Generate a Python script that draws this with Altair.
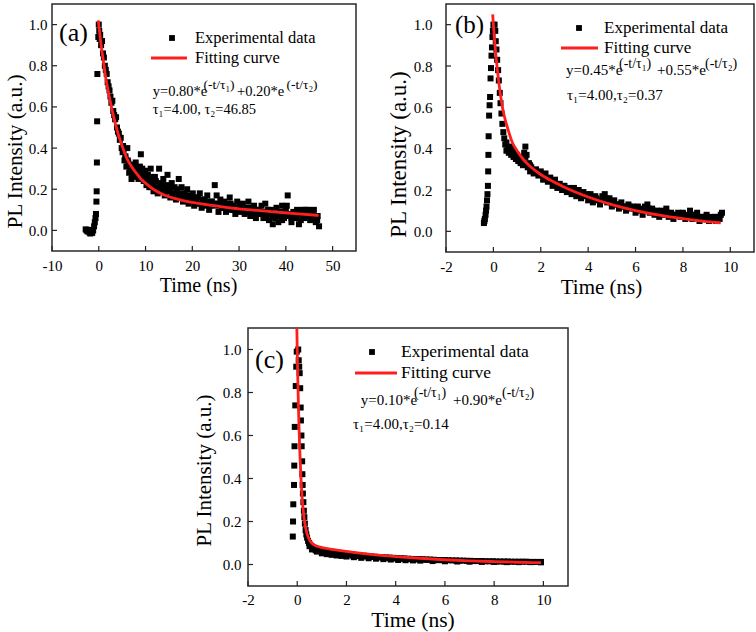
import altair as alt
import pandas as pd

FONT = "Liberation Serif"
RED = "#ff1e1e"

# ---------------- Panel (a) ----------------
a_exp_t = [-2.8, -2.6, -2.4, -2.2, -2.0, -1.8, -1.6, -1.4, -1.2, -1.0, -0.85, -0.7, -0.6,
           -0.5, -0.45, -0.4, -0.35, -0.3, -0.1, 0.0, 0.1, 0.2,
           0.3, 0.5, 0.7, 0.9, 1.1, 1.3, 1.5, 1.7, 1.9, 2.1, 2.3, 2.5, 2.7, 2.9, 3.1, 3.3, 3.5,
           3.7, 3.9, 4.1, 4.3, 4.5, 4.7, 4.9, 5.1, 5.3, 5.5, 5.7, 5.9, 6.1, 6.3, 6.5, 6.8, 7.0,
           7.3, 7.6, 7.9, 8.2, 8.5, 8.8, 9.0, 9.3, 9.6, 9.9, 10.2, 10.5, 10.8, 11.1, 11.4, 11.7,
           12.0, 12.3, 12.6, 12.9, 13.2, 13.5, 13.8, 14.1, 14.4, 14.7, 15.0, 15.3, 15.6, 15.9,
           16.2, 16.5, 16.8, 17.1, 17.4, 17.7, 18.0, 18.3, 18.6, 18.9, 19.2, 19.5, 19.8, 20.1,
           20.4, 20.8, 21.2, 21.6, 22.0, 22.4, 22.8, 23.2, 23.6, 24.0, 24.4, 24.8, 25.2, 25.6,
           26.0, 26.4, 26.8, 27.2, 27.6, 28.0, 28.4, 28.8, 29.2, 29.6, 30.0, 30.4, 30.8, 31.2,
           31.6, 32.0, 32.4, 32.8, 33.2, 33.6, 34.0, 34.4, 34.8, 35.2, 35.6, 36.0, 36.4, 36.8,
           37.2, 37.6, 38.0, 38.4, 38.8, 39.2, 39.6, 40.0, 40.4, 40.8, 41.2, 41.6, 42.0, 42.4,
           42.8, 43.2, 43.6, 44.0, 44.4, 44.8, 45.2, 45.6, 46.0, 46.4, 46.8, 47.1]
a_exp_y = [0.005, 0.0, -0.005, 0.003, -0.01, -0.015, -0.008, -0.012, 0.0, 0.02, 0.04, 0.06, 0.08,
           0.14, 0.19, 0.33, 0.53, 0.76, 0.94, 1.0, 0.97, 0.93,
           0.95, 0.90, 0.92, 0.86, 0.84, 0.80, 0.78, 0.76, 0.72, 0.70, 0.68, 0.65, 0.62, 0.63, 0.58,
           0.56, 0.54, 0.55, 0.50, 0.48, 0.47, 0.44, 0.45, 0.40, 0.38, 0.39, 0.34, 0.36, 0.31, 0.40,
           0.33, 0.28, 0.32, 0.25, 0.30, 0.27, 0.33, 0.29, 0.25, 0.31, 0.37, 0.30, 0.24, 0.29, 0.22,
           0.27, 0.21, 0.30, 0.24, 0.19, 0.26, 0.21, 0.18, 0.30, 0.23, 0.19, 0.25, 0.17, 0.22, 0.27,
           0.20, 0.16, 0.23, 0.18, 0.21, 0.15, 0.19, 0.25, 0.17, 0.21, 0.14, 0.18, 0.15, 0.20, 0.13,
           0.17, 0.14, 0.18, 0.12, 0.16, 0.13, 0.18, 0.11, 0.15, 0.12, 0.17, 0.10, 0.14, 0.12, 0.22,
           0.13, 0.09, 0.15, 0.11, 0.14, 0.09, 0.13, 0.16, 0.10, 0.12, 0.08, 0.14, 0.11, 0.09, 0.13,
           0.08, 0.11, 0.14, 0.07, 0.10, 0.12, 0.06, 0.10, 0.08, 0.12, 0.06, 0.13, 0.09, 0.05, 0.10,
           0.03, 0.08, 0.11, 0.04, 0.09, 0.12, 0.06, 0.10, 0.17, 0.08, 0.04, 0.09, 0.06, 0.10, 0.03,
           0.08, 0.10, 0.06, 0.09, 0.10, 0.05, 0.08, 0.10, 0.04, 0.07, 0.02]
# second, interleaved sweep of the same decay (thickens the noisy band)
a_exp2_t = [5.2, 5.7, 6.2, 6.7, 7.2, 7.7, 8.2, 8.7, 9.2, 9.7, 10.2, 10.7, 11.2, 11.7, 12.2,
            12.7, 13.2, 13.7, 14.2, 14.7, 15.2, 15.7, 16.2, 16.7, 17.2, 17.7, 18.2, 18.7, 19.2,
            19.7, 20.2, 20.7, 21.2, 21.7, 22.2, 22.7, 23.2, 23.7, 24.2, 24.7, 25.2, 25.7, 26.2,
            26.7, 27.2, 27.7, 28.2, 28.7, 29.2, 29.7, 30.2, 30.7, 31.2, 31.7, 32.2, 32.7, 33.2,
            33.7, 34.2, 34.7, 35.2, 35.7, 36.2, 36.7, 37.2, 37.7, 38.2, 38.7, 39.2, 39.7, 40.2,
            40.7, 41.2, 41.7, 42.2, 42.7, 43.2, 43.7, 44.2, 44.7, 45.2, 45.7, 46.2, 46.7]
a_exp2_y = [0.41, 0.35, 0.34, 0.29, 0.27, 0.31, 0.26, 0.28, 0.26, 0.27, 0.25, 0.23, 0.26, 0.22, 0.24,
            0.20, 0.21, 0.22, 0.20, 0.19, 0.21, 0.18, 0.17, 0.20, 0.16, 0.18, 0.16, 0.17, 0.15,
            0.16, 0.15, 0.14, 0.16, 0.13, 0.14, 0.15, 0.13, 0.12, 0.14, 0.13, 0.17, 0.12, 0.13,
            0.11, 0.12, 0.11, 0.13, 0.10, 0.11, 0.10, 0.12, 0.10, 0.09, 0.10, 0.09, 0.11, 0.08,
            0.09, 0.10, 0.08, 0.09, 0.07, 0.10, 0.08, 0.07, 0.06, 0.08, 0.07, 0.05, 0.08, 0.12,
            0.07, 0.06, 0.08, 0.07, 0.09, 0.05, 0.07, 0.10, 0.08, 0.07, 0.09, 0.06, 0.05]
a_fit_t = [-0.1, 0, 0.5, 1, 1.5, 2, 3, 4, 5, 6, 7, 8, 9, 10, 12, 14, 16, 18, 20, 23, 26, 30,
           34, 38, 42, 47]
a_fit_y = [1.02, 1.0, 0.90, 0.82, 0.74, 0.68, 0.57, 0.48, 0.41, 0.35, 0.31, 0.28, 0.25, 0.23,
           0.195, 0.172, 0.157, 0.145, 0.136, 0.125, 0.116, 0.105, 0.097, 0.089, 0.082, 0.073]
a_xticks = [-10, 0, 10, 20, 30, 40, 50]

# ---------------- Panel (b) ----------------
b_exp_t = [-0.40, -0.38, -0.36, -0.33, -0.31, -0.29, -0.27, -0.25, -0.23, -0.22, -0.21, -0.20,
           -0.18, -0.16, -0.14, -0.12, -0.10, -0.08, -0.06, -0.04, -0.02, 0.0,
           0.05, 0.08, 0.10, 0.13, 0.16, 0.20, 0.23, 0.27, 0.30, 0.34, 0.38, 0.42, 0.46, 0.50,
           0.55, 0.60, 0.65, 0.70, 0.75, 0.80, 0.85, 0.90, 0.95, 1.00, 1.05, 1.10, 1.15, 1.20,
           1.25, 1.30, 1.35, 1.40, 1.45, 1.50, 1.55, 1.60, 1.70, 1.80, 1.90, 2.00, 2.10, 2.20,
           2.30, 2.40, 2.50, 2.60, 2.70, 2.80, 2.90, 3.00, 3.10, 3.20, 3.30, 3.40, 3.50, 3.60,
           3.70, 3.80, 3.90, 4.00, 4.10, 4.20, 4.30, 4.40, 4.50, 4.60, 4.70, 4.80, 4.90, 5.00,
           5.10, 5.20, 5.30, 5.40, 5.50, 5.60, 5.70, 5.80, 5.90, 6.00, 6.10, 6.20, 6.30, 6.40,
           6.50, 6.60, 6.70, 6.80, 6.90, 7.00, 7.10, 7.20, 7.30, 7.40, 7.50, 7.60, 7.80, 7.90,
           8.00, 8.10, 8.20, 8.30, 8.40, 8.50, 8.60, 8.70, 8.80, 8.90, 9.00, 9.10, 9.20, 9.30,
           9.40, 9.50, 9.60, 9.65]
b_exp_y = [0.04, 0.05, 0.06, 0.08, 0.10, 0.12, 0.15, 0.18, 0.22, 0.29, 0.37, 0.46,
           0.56, 0.61, 0.65, 0.74, 0.79, 0.85, 0.89, 0.94, 0.97, 1.0,
           1.00, 0.97, 0.92, 0.88, 0.83, 0.78, 0.73, 0.67, 0.62, 0.57, 0.52, 0.48, 0.45, 0.42,
           0.43, 0.40, 0.38, 0.41, 0.37, 0.39, 0.36, 0.38, 0.35, 0.37, 0.34, 0.36, 0.33, 0.35,
           0.32, 0.38, 0.41, 0.37, 0.31, 0.33, 0.29, 0.31, 0.28, 0.30, 0.27, 0.29, 0.25, 0.28,
           0.24, 0.26, 0.22, 0.25, 0.21, 0.23, 0.20, 0.22, 0.19, 0.21, 0.18, 0.21, 0.17, 0.20,
           0.16, 0.19, 0.17, 0.15, 0.18, 0.14, 0.17, 0.15, 0.13, 0.17, 0.18, 0.14, 0.16, 0.12,
           0.15, 0.13, 0.11, 0.14, 0.12, 0.10, 0.13, 0.11, 0.12, 0.09, 0.12, 0.10, 0.08, 0.12,
           0.13, 0.09, 0.11, 0.08, 0.10, 0.07, 0.10, 0.08, 0.11, 0.07, 0.09, 0.06, 0.09, 0.07,
           0.09, 0.06, 0.08, 0.10, 0.06, 0.08, 0.09, 0.05, 0.07, 0.06, 0.08, 0.05, 0.07, 0.06,
           0.05, 0.07, 0.08, 0.09]
b_exp2_t = [0.55, 0.75, 0.95, 1.15, 1.35, 1.55, 1.75, 1.95, 2.15, 2.35, 2.55, 2.75, 2.95, 3.15,
            3.35, 3.55, 3.75, 3.95, 4.15, 4.35, 4.55, 4.75, 4.95, 5.15, 5.35, 5.55, 5.75, 5.95,
            6.15, 6.35, 6.55, 6.75, 6.95, 7.15, 7.35, 7.55, 7.75, 7.95, 8.15, 8.35, 8.55, 8.75,
            8.95, 9.15, 9.35, 9.55]
b_exp2_y = [0.39, 0.40, 0.37, 0.35, 0.36, 0.32, 0.29, 0.28, 0.27, 0.25, 0.24, 0.22, 0.22, 0.20,
            0.20, 0.19, 0.18, 0.18, 0.16, 0.16, 0.15, 0.16, 0.14, 0.13, 0.13, 0.12, 0.12, 0.11,
            0.11, 0.10, 0.11, 0.10, 0.09, 0.09, 0.09, 0.08, 0.08, 0.08, 0.07, 0.08, 0.07, 0.07,
            0.07, 0.06, 0.07, 0.06]
b_fit_t = [-0.03, 0, 0.1, 0.2, 0.3, 0.4, 0.5, 0.6, 0.8, 1.0, 1.25, 1.5, 2, 2.5, 3, 4, 5, 6, 7,
           8, 9, 9.6]
b_fit_y = [1.05, 1.0, 0.86, 0.75, 0.66, 0.59, 0.54, 0.50, 0.43, 0.39, 0.35, 0.32, 0.275, 0.242,
           0.213, 0.166, 0.129, 0.100, 0.078, 0.061, 0.047, 0.041]
b_xticks = [-2, 0, 2, 4, 6, 8, 10]

# ---------------- Panel (c) ----------------
c_exp_t = [-0.18, -0.17, -0.16, -0.13, -0.12, -0.11, -0.10, -0.08, -0.06, -0.04, -0.02,
           0.04, 0.06, 0.08, 0.10, 0.12, 0.14, 0.15, 0.17, 0.18, 0.20, 0.21, 0.22, 0.23, 0.25,
           0.27, 0.29, 0.31, 0.34, 0.37, 0.40, 0.44, 0.48, 0.52, 0.56, 0.60, 0.65, 0.70,
           0.75, 0.90, 1.05, 1.20, 1.35, 1.50, 1.65, 1.80, 1.95, 2.10, 2.25, 2.40, 2.55, 2.70,
           2.85, 3.00, 3.15, 3.30, 3.45, 3.60, 3.75, 3.90, 4.05, 4.20, 4.35, 4.50, 4.65, 4.80,
           4.95, 5.10, 5.25, 5.40, 5.55, 5.70, 5.85, 6.00, 6.15, 6.30, 6.45, 6.60, 6.75, 6.90,
           7.05, 7.20, 7.35, 7.50, 7.65, 7.80, 7.95, 8.10, 8.25, 8.40, 8.55, 8.70, 8.85, 9.00,
           9.15, 9.30, 9.45, 9.60, 9.75, 9.90,
           0.60, 0.80, 1.00, 1.20, 1.40, 1.60, 1.80, 2.00, 2.30, 2.60, 2.90, 3.20, 3.50, 3.80,
           4.10, 4.40, 4.70, 5.00, 5.50, 6.00, 6.50, 7.00, 7.50, 8.00, 8.50, 9.00, 9.50, 9.90]
c_exp_y = [0.13, 0.20, 0.28, 0.37, 0.46, 0.55, 0.64, 0.74, 0.83, 0.92, 0.99,
           1.0, 0.95, 0.92, 0.89, 0.82, 0.73, 0.67, 0.60, 0.55, 0.48, 0.42, 0.37, 0.33, 0.29,
           0.25, 0.22, 0.19, 0.16, 0.14, 0.125, 0.11, 0.10, 0.092, 0.087, 0.083, 0.079, 0.076,
           0.074, 0.070, 0.066, 0.063, 0.060, 0.057, 0.055, 0.052, 0.050, 0.048, 0.046, 0.044,
           0.043, 0.041, 0.039, 0.038, 0.036, 0.035, 0.034, 0.033, 0.032, 0.031, 0.030, 0.029,
           0.028, 0.027, 0.026, 0.025, 0.025, 0.024, 0.023, 0.023, 0.022, 0.021, 0.021, 0.020,
           0.020, 0.019, 0.019, 0.018, 0.018, 0.017, 0.017, 0.016, 0.016, 0.016, 0.015, 0.015,
           0.015, 0.014, 0.014, 0.014, 0.014, 0.013, 0.013, 0.013, 0.013, 0.013, 0.012, 0.012,
           0.012, 0.012,
           0.070, 0.060, 0.052, 0.048, 0.045, 0.042, 0.040, 0.037, 0.034, 0.031, 0.029, 0.027,
           0.025, 0.023, 0.021, 0.020, 0.019, 0.018, 0.016, 0.015, 0.014, 0.013, 0.012, 0.012,
           0.011, 0.011, 0.011, 0.010]
c_exp2_t = [0.50, 0.75, 1.00, 1.25, 1.50, 1.75, 2.00, 2.25, 2.50, 2.75, 3.00, 3.25, 3.50, 3.75,
            4.00, 4.25, 4.50, 4.75, 5.00, 5.25, 5.50, 5.75, 6.00]
c_exp2_y = [0.085, 0.066, 0.058, 0.054, 0.050, 0.047, 0.043, 0.041, 0.039, 0.037, 0.035, 0.033,
            0.031, 0.029, 0.028, 0.027, 0.025, 0.024, 0.023, 0.022, 0.021, 0.020, 0.019]
c_fit_t = [-0.02, 0, 0.02, 0.05, 0.1, 0.15, 0.2, 0.25, 0.3, 0.4, 0.5, 0.6, 0.8, 1.0, 1.5, 2,
           3, 4, 5, 6, 7, 8, 9, 9.9]
c_fit_y = [1.13, 1.0, 0.88, 0.73, 0.54, 0.405, 0.31, 0.245, 0.198, 0.142, 0.114, 0.098, 0.085,
           0.079, 0.069, 0.061, 0.047, 0.037, 0.029, 0.022, 0.017, 0.0135, 0.0105, 0.0084]
c_xticks = [-2, 0, 2, 4, 6, 8, 10]

y_ticks = [0.0, 0.2, 0.4, 0.6, 0.8, 1.0]
y_domain = [-0.1, 1.1]

legend_labels = ["Experimental data", "Fitting curve"]
x_title = "Time (ns)"
y_title = "PL Intensity (a.u.)"

a_eq = ["y=0.80*e", "(-t/τ₁)", "+0.20*e", "(-t/τ₂)"]
b_eq = ["y=0.45*e", "(-t/τ₁)", "+0.55*e", "(-t/τ₂)"]
c_eq = ["y=0.10*e", "(-t/τ₁)", "+0.90*e", "(-t/τ₂)"]
a_tau = "τ₁=4.00, τ₂=46.85"
b_tau = "τ₁=4.00,τ₂=0.37"
c_tau = "τ₁=4.00,τ₂=0.14"

ONE = pd.DataFrame({"k": [0]})


def txt(text, x, y, size, baseline="alphabetic"):
    return alt.Chart(ONE).mark_text(
        text=text, align="left", baseline=baseline, font=FONT, fontSize=size, color="black"
    ).encode(x=alt.value(x), y=alt.value(y))


def panel(label, exp_t, exp_y, fit_t, fit_y, xdom, xticks, eq, tau, L):
    W, H = L["W"], L["H"]
    xs = alt.Scale(domain=xdom, nice=False, zero=False)
    ys = alt.Scale(domain=y_domain, nice=False, zero=False)
    xaxis = alt.Axis(values=xticks, labelExpr="'' + datum.value", title=x_title,
                     ticks=False, domain=False, grid=False, labelFlush=False,
                     labelOverlap=False, labelFontSize=15, labelPadding=L["xlp"],
                     titleFontSize=L["xts"], titlePadding=L["xtp"], titleX=L["xtx"])
    yaxis = alt.Axis(values=y_ticks, format=".1f", title=y_title, ticks=False, domain=False,
                     grid=False, labelOverlap=False, labelFontSize=15, labelPadding=L["ylp"],
                     titleFontSize=L["yts"], titlePadding=L["ytp"], titleY=L["yty"])
    X = alt.X("t:Q", scale=xs, axis=xaxis)
    Y = alt.Y("y:Q", scale=ys, axis=yaxis)

    pts = alt.Chart(pd.DataFrame({"t": exp_t, "y": exp_y})).mark_square(
        size=L["ms"], color="black", opacity=1).encode(x=X, y=Y)
    fit = alt.Chart(pd.DataFrame({"t": fit_t, "y": fit_y})).mark_line(
        color=RED, strokeWidth=2.8, clip=True, interpolate="monotone").encode(x=X, y=Y)
    xt = alt.Chart(pd.DataFrame({"t": xticks})).mark_rule(color="#222", strokeWidth=1.2).encode(
        x=X, y=alt.value(H), y2=alt.value(H - 5))
    yt = alt.Chart(pd.DataFrame({"y": y_ticks})).mark_rule(color="#222", strokeWidth=1.2).encode(
        y=Y, x=alt.value(0), x2=alt.value(5))

    lx, ly = L["lab"]
    sq = alt.Chart(ONE).mark_square(size=34, color="black", opacity=1).encode(
        x=alt.value(L["sq"][0]), y=alt.value(L["sq"][1]))
    ln = alt.Chart(ONE).mark_rule(color=RED, strokeWidth=3.2).encode(
        x=alt.value(L["ln"][0]), x2=alt.value(L["ln"][1]), y=alt.value(L["ln"][2]))
    layers = [pts, fit, xt, yt,
              txt(label, lx, ly, L["labfs"], "middle"),
              sq, txt(legend_labels[0], L["lt"], L["sq"][1], L["lfs"], "middle"),
              ln, txt(legend_labels[1], L["lt"], L["ln"][2], L["lfs"], "middle")]
    ex = L["eqx"]
    for i, piece in enumerate(eq):
        if i % 2 == 0:
            layers.append(txt(piece, ex[i], L["eqy"], L["eqfs"]))
        else:
            layers.append(txt(piece, ex[i], L["supy"], L["supfs"]))
    layers.append(txt(tau, L["taux"], L["tauy"], L["taufs"]))
    return alt.layer(*layers).properties(width=W, height=H)


La = dict(W=304, H=247, xlp=7, xts=20, xtp=2, xtx=146, ylp=5, yts=21.3, ytp=3, yty=147, ms=36,
          lab=(7, 29), labfs=26, sq=(120, 34), ln=(99, 135, 54), lt=143, lfs=16.5,
          eqx=[100.7, 151.5, 185, 234.5], eqy=92, supy=85, eqfs=14.5, supfs=13.5,
          taux=100.7, tauy=109.5, taufs=14.5)
Lb = dict(W=308, H=248, xlp=7, xts=21, xtp=2, xtx=155, ylp=14, yts=23, ytp=3, yty=150,
          ms=36, lab=(9, 21), labfs=25, sq=(133, 24), ln=(115, 152, 44), lt=158, lfs=17,
          eqx=[120, 173, 211, 259], eqy=71, supy=64, eqfs=15, supfs=14,
          taux=121, tauy=96, taufs=15)
Lc = dict(W=320, H=258, xlp=6, xts=21.5, xtp=2, xtx=164.5, ylp=7, yts=21, ytp=8, yty=142,
          ms=36, lab=(7, 32), labfs=26, sq=(124, 24), ln=(107, 149, 45), lt=153, lfs=17.5,
          eqx=[112.7, 166, 205, 254], eqy=77, supy=69, eqfs=15, supfs=14,
          taux=105, tauy=101, taufs=15)

pa = panel("(a)", a_exp_t + a_exp2_t, a_exp_y + a_exp2_y, a_fit_t, a_fit_y, [-10, 55],
           a_xticks, a_eq, a_tau, La)
pb = panel("(b)", b_exp_t + b_exp2_t, b_exp_y + b_exp2_y, b_fit_t, b_fit_y, [-2, 11],
           b_xticks, b_eq, b_tau, Lb)
pc = panel("(c)", c_exp_t + c_exp2_t, c_exp_y + c_exp2_y, c_fit_t, c_fit_y, [-2, 11],
           c_xticks, c_eq, c_tau, Lc)

spacer = alt.Chart(ONE).mark_point(opacity=0).encode(
    x=alt.value(0), y=alt.value(0)
).properties(width=139, height=10, view=alt.ViewBackground(stroke="transparent"))

top = alt.hconcat(pa, pb, spacing=29)
bottom = alt.hconcat(spacer, pc, spacing=0)
chart = alt.vconcat(top, bottom, spacing=26).properties(
    padding={"left": 3, "top": 3, "right": 0, "bottom": 0},
    background="white",
).configure_view(stroke="#2a2a2a", strokeWidth=1.5).configure_axis(
    labelFont=FONT, titleFont=FONT, labelColor="black", titleColor="black",
    titleFontWeight="normal",
)

chart.save("out.html", embed_options={"renderer": "svg", "actions": False})
